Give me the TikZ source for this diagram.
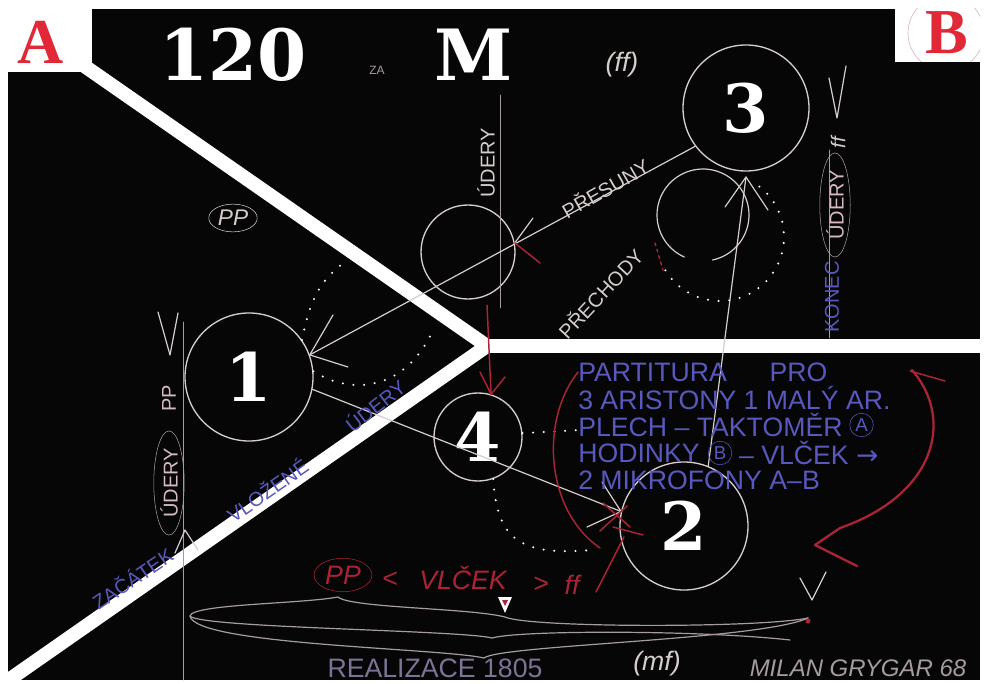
\documentclass[tikz,border=0pt]{standalone}
\usepackage{fontspec}
\setmainfont{Liberation Sans}
\newfontfamily\numfont{DejaVu Serif}
\newfontfamily\letfont{Liberation Serif}
\newfontfamily\hand{Liberation Sans}
\newfontfamily\symfont{DejaVu Sans}
\usetikzlibrary{shapes.geometric,calc}
\newcommand{\szf}[1]{\fontsize{#1}{#1}\selectfont}
\definecolor{bg}{RGB}{6,6,6}
\definecolor{chalk}{RGB}{215,205,205}
\definecolor{chalkdim}{RGB}{165,155,160}
\definecolor{chalkpink}{RGB}{215,185,195}
\definecolor{bluechalk}{RGB}{88,88,190}
\definecolor{redchalk}{RGB}{170,35,55}
\definecolor{redletter}{RGB}{225,40,55}
\definecolor{lav}{RGB}{125,115,150}
\tikzset{
 ring/.style={circle, draw=chalk, line width=1pt, inner sep=0pt, text=white, font=\numfont\bfseries\szf{50}},
 chalkline/.style={draw=chalk, line width=0.9pt, line cap=round, line join=round},
 dimline/.style={draw=chalkdim, line width=0.7pt, line cap=round},
 redline/.style={draw=redchalk, line width=1.1pt, line cap=round, line join=round},
 dotline/.style={draw=white, line width=1.7pt, line cap=round, dash pattern=on 0pt off 8pt},
 handtxt/.style={text=chalk, font=\hand\szf{15}, inner sep=0pt},
 bluetxt/.style={text=bluechalk, font=\hand\szf{15}, inner sep=0pt},
 blockrow/.style={text=bluechalk, font=\hand\szf{20}, inner sep=0pt, anchor=west},
 bluecirc/.style={circle, draw=bluechalk, text=bluechalk, font=\hand\szf{14}, inner sep=1.5pt, anchor=west},
 redtxt/.style={text=redchalk, font=\hand\itshape\szf{20}, inner sep=0pt},
 band/.style={draw=white, line width=10.5pt},
 bigtxt/.style={text=white, font=\numfont\bfseries\szf{53}, inner sep=0pt},
}
\begin{document}
\begin{tikzpicture}[x=0.75pt,y=-0.75pt]
\useasboundingbox (0,0) rectangle (985,684);
\fill[white] (0,0) rectangle (985,684);
\fill[bg] (8,9) rectangle (980,680);
% corner boxes
\fill[white] (8,9) rectangle (92,72);
\node[font=\letfont\bfseries\szf{48}, text=redletter, inner sep=0pt] (lA) at (41,42) {A};
\fill[white] (895,9) rectangle (980,62);
\begin{scope}
\clip (895,9) rectangle (980,62);
\draw[draw=chalkpink, line width=0.5pt] (946,33) circle[radius=38];
\end{scope}
\node[font=\letfont\bfseries\szf{48}, text=redletter, inner sep=0pt] (lB) at (947,33) {B};
% white bands
\begin{scope}
\clip (8,9) rectangle (980,680);
\draw[band, line join=miter] (70,56) -- (487,346) -- (-20,700);
\draw[band] (487,346) -- (990,346);
\end{scope}
% title
\node[bigtxt] (n120) at (233,55) {120};
\node[text=chalkdim, font=\hand\szf{9}, inner sep=0pt] (za) at (377,70) {ZA};
\node[bigtxt] (nM) at (474,55) {M};
% circles
\node[ring, minimum size=96pt] (c1) at (249,377) {1};
\node[ring, minimum size=94.5pt] (c3) at (746,108) {3};
\node[ring, minimum size=96pt] (c2) at (684,526) {2};
\node[ring, minimum size=66pt] (c4) at (478,437) {4};
\node[circle, draw=chalk, line width=1pt, inner sep=0pt, minimum size=70.5pt] (c5) at (468,252) {};
\draw[chalkline] plot[domain=114:438, samples=70] ({703+46*cos(\x)},{215+46*sin(\x)});
% dotted paths
\draw[dotline] (c1.35) .. controls (310,300) and (320,280) .. (345,262);
\draw[dotline] (c1.5) .. controls (350,395) and (405,392) .. (433,330);
\draw[dotline] (c4.5) -- (582,430);
\draw[dotline] (c4.-70) .. controls (497,540) and (520,556) .. (592,550);
\draw[dotline] plot[domain=-52:150, samples=60] ({720+64*cos(\x)},{237+64*sin(\x)});
% vertical guide lines
\draw[dimline] (500,95) -- (500,308);
\draw[dimline] (183,322) -- (183,680);
\draw[dimline] (829,150) -- (829,338);
% connectors
\draw[chalkline] (c3.217) -- (c1.20);
\coordinate (a1u) at (333,315);
\coordinate (a1d) at (348,367);
\draw[chalkline] (a1u) -- (c1.20) -- (a1d);
\draw[chalkline] (c1.-11) -- (c2.167);
\coordinate (a2u) at (602,482);
\coordinate (a2d) at (587,527);
\draw[chalkline] (a2u) -- (c2.167) -- (a2d);
\coordinate (t3) at (746,177);
\coordinate (a3l) at (725,207);
\coordinate (a3r) at (768,210);
\draw[chalkline] (c2.68) -- (t3);
\draw[chalkline] (a3l) -- (t3) -- (a3r);
\coordinate (a5r) at (540,263);
\coordinate (a5u) at (533,218);
\draw[chalkline] (a5u) -- (c5.11);
\draw[redline] (a5r) -- (c5.11);
\coordinate (r4top) at (487,305);
\coordinate (a4l) at (480,372);
\coordinate (a4r) at (505,377);
\draw[redline] (r4top) -- (c4.73);
\draw[redline] (a4l) -- (c4.73) -- (a4r);
% red marks
\draw[redline, line width=1.7pt] (912,370) .. controls (955,420) and (935,495) .. (840,528) -- (815,545) -- (857,566);
\draw[redline] (910,371) -- (945,381);
\draw[redline] (578,372) .. controls (540,420) and (545,510) .. (600,548);
\draw[redline] (603,503) -- (630,527);
\draw[redline] (600,531) -- (627,506);
\draw[redline] (613,527) -- (643,535);
\draw[redline] (624,537) -- (596,592);
\draw[redline, dash pattern=on 2pt off 3pt] (655,243) -- (663,270);
% texts top middle
\node[handtxt, rotate=90] (u1) at (486,163) {ÚDERY};
\node[handtxt, rotate=30] (pres) at (605,188) {PŘESUNY};
\node[handtxt, rotate=47] (prech) at (600,293) {PŘECHODY};
\node[handtxt, font=\hand\itshape\szf{20}] (ff1) at (622,65) {(ff)};
\node[handtxt, draw=chalk, ellipse, inner sep=1.5pt, font=\hand\itshape\szf{17}] (pp1) at (233,218) {PP};
% left column
\coordinate (v1a) at (158,312);
\coordinate (v1b) at (170,355);
\coordinate (v1c) at (178,313);
\draw[chalkline] (v1a) -- (v1b) -- (v1c);
\node[handtxt, text=chalkpink, rotate=90] (pp2) at (169,398) {PP};
\node[handtxt, text=chalkpink, draw=chalkdim, ellipse, inner sep=1.5pt, rotate=90] (ud2) at (169,483) {ÚDERY};
\coordinate (k1) at (175,553);
\coordinate (k2) at (185,530);
\coordinate (k3) at (198,550);
\draw[chalkline] (k1) -- (k2) -- (k3);
\node[bluetxt, rotate=34] (zac) at (132,578) {ZAČÁTEK};
\node[bluetxt, rotate=35] (vloz) at (267,490) {VLOŽENÉ};
\node[bluetxt, rotate=38] (ud3) at (375,405) {ÚDERY};
% right column
\coordinate (v2a) at (829,78);
\coordinate (v2b) at (837,118);
\coordinate (v2c) at (846,66);
\draw[chalkline] (v2a) -- (v2b) -- (v2c);
\node[handtxt, rotate=90, font=\hand\itshape\szf{15}] (ff2) at (838,143) {ff};
\node[handtxt, text=chalkpink, draw=chalkdim, ellipse, inner sep=1.5pt, rotate=90] (ud4) at (835,205) {ÚDERY};
\node[bluetxt, rotate=90] (kon) at (832,297) {KONEC};
% blue block
\node[blockrow] (r1) at (578,372) {PARTITURA\hspace{1.6em}PRO};
\node[blockrow] (r2) at (578,398) {3 ARISTONY 1 MALÝ AR.};
\node[blockrow] (r3) at (578,425) {PLECH – TAKTOMĚR};
\node[bluecirc] (r3a) at ([xshift=5pt]r3.east) {A};
\node[blockrow] (r4) at (578,453) {HODINKY};
\node[bluecirc] (r4b) at ([xshift=6pt]r4.east) {B};
\node[blockrow] (r4c) at ([xshift=5pt]r4b.east) {– VLČEK {\symfont →}};
\node[blockrow] (r5) at (578,480) {2 MIKROFONY A–B};
% bottom red dynamics
\node[redtxt, draw=redchalk, ellipse, inner sep=2pt] (pp3) at (343,575) {PP};
\node[redtxt] (lt) at (390,580) {<};
\node[redtxt] (vl) at (463,578) {VLČEK};
\node[redtxt] (gt) at (541,585) {>};
\node[redtxt] (ff3) at (572,585) {ff};
% braces
\draw[chalkline, draw=chalkdim] (190,616) .. controls (192,604) and (300,604) .. (338,597) .. controls (350,608) and (470,608) .. (505,617) .. controls (530,628) and (760,628) .. (808,618);
\draw[chalkline, draw=chalkdim] (190,616) .. controls (200,628) and (460,630) .. (492,638) .. controls (520,630) and (700,630) .. (790,640);
\draw[chalkline, draw=chalkdim] (190,616) .. controls (195,645) and (440,648) .. (484,658) .. controls (500,645) and (760,640) .. (808,618);
\fill[white] (498,597) -- (512,597) -- (505,613) -- cycle;
\fill[redchalk] (502,600) -- (508,600) -- (505,606) -- cycle;
\coordinate (v3a) at (800,578);
\coordinate (v3b) at (812,600);
\coordinate (v3c) at (826,572);
\draw[chalkline] (v3a) -- (v3b) -- (v3c);
\fill[redchalk] (808,621) circle[radius=2.5];
% bottom labels
\node[text=lav, font=\hand\szf{20}, inner sep=0pt] (real) at (435,668) {REALIZACE 1805};
\node[text=chalk, font=\hand\itshape\szf{20}, inner sep=0pt] (mf) at (657,664) {(mf)};
\node[text=chalkdim, font=\hand\itshape\szf{18}, inner sep=0pt] (sig) at (858,668) {MILAN GRYGAR 68};
\end{tikzpicture}
\end{document}
